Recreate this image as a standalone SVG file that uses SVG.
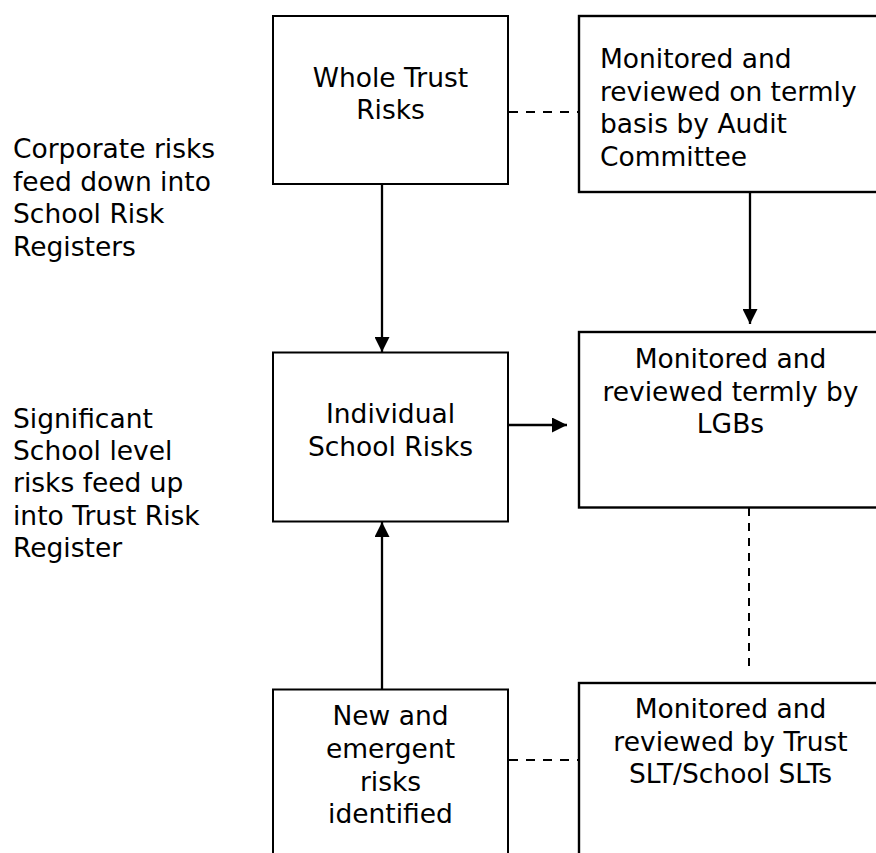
<svg xmlns="http://www.w3.org/2000/svg" width="876" height="853" viewBox="0 0 876 853">
<style>
  text { font-family: "DejaVu Sans", Verdana, sans-serif; font-size: 26.5px; fill: #000; }
  .c { text-anchor: middle; }
  .box { fill: #fff; stroke: #000; stroke-width: 2; }
  .boxr { fill: #fff; stroke: #000; stroke-width: 2.4; }
  .line { stroke: #000; stroke-width: 2.3; fill: none; }
  .dash { stroke: #000; stroke-width: 2; fill: none; stroke-dasharray: 9 8; }
  .vdash { stroke: #000; stroke-width: 2; fill: none; stroke-dasharray: 8 7; }
</style>
<defs>
  <marker id="arrow" markerUnits="userSpaceOnUse" markerWidth="15" markerHeight="15" refX="15" refY="7.5" orient="auto">
    <path d="M0,0 L15,7.5 L0,15 Z" fill="#000"/>
  </marker>
</defs>
<rect width="876" height="853" fill="#fff"/>

<g id="label-corporate">
  <text x="13" y="158">Corporate risks</text>
  <text x="13" y="190.5">feed down into</text>
  <text x="13" y="223">School Risk</text>
  <text x="13" y="255.5">Registers</text>
</g>
<g id="label-significant">
  <text x="13" y="428">Significant</text>
  <text x="13" y="460.2">School level</text>
  <text x="13" y="492.4">risks feed up</text>
  <text x="13" y="524.6">into Trust Risk</text>
  <text x="13" y="556.8">Register</text>
</g>

<g id="connectors">
  <line class="dash" x1="509" y1="112" x2="579" y2="112"/>
  <line class="line" x1="382" y1="185" x2="382" y2="352" marker-end="url(#arrow)"/>
  <line class="line" x1="750" y1="192" x2="750" y2="324" marker-end="url(#arrow)"/>
  <line class="line" x1="509" y1="425" x2="567" y2="425" marker-end="url(#arrow)"/>
  <line class="vdash" x1="749" y1="508" x2="749" y2="669"/>
  <line class="line" x1="382" y1="689" x2="382" y2="522" marker-end="url(#arrow)"/>
  <line class="dash" x1="509" y1="760" x2="579" y2="760"/>
</g>

<g id="whole-trust-risks">
  <rect class="box" x="273" y="16" width="235" height="168"/>
  <text class="c" x="390.5" y="87">Whole Trust</text>
  <text class="c" x="390.5" y="118.5">Risks</text>
</g>
<g id="audit-committee">
  <rect class="boxr" x="579" y="16" width="310" height="176"/>
  <text x="600" y="68.3">Monitored and</text>
  <text x="600" y="100.7">reviewed on termly</text>
  <text x="600" y="133.1">basis by Audit</text>
  <text x="600" y="165.5">Committee</text>
</g>
<g id="individual-school-risks">
  <rect class="box" x="273" y="352.5" width="235" height="169"/>
  <text class="c" x="390.5" y="422.5">Individual</text>
  <text class="c" x="390.5" y="455.5">School Risks</text>
</g>
<g id="lgbs">
  <rect class="boxr" x="579" y="332" width="303" height="175.5"/>
  <text class="c" x="730.5" y="368.3">Monitored and</text>
  <text class="c" x="730.5" y="400.7">reviewed termly by</text>
  <text class="c" x="730.5" y="433.3">LGBs</text>
</g>
<g id="new-emergent-risks">
  <rect class="box" x="273" y="689.5" width="235" height="200"/>
  <text class="c" x="390.5" y="725">New and</text>
  <text class="c" x="390.5" y="758">emergent</text>
  <text class="c" x="390.5" y="790.7">risks</text>
  <text class="c" x="390.5" y="823.3">identified</text>
</g>
<g id="slt">
  <rect class="boxr" x="579" y="683" width="303" height="200"/>
  <text class="c" x="730.5" y="718.3">Monitored and</text>
  <text class="c" x="730.5" y="750.7">reviewed by Trust</text>
  <text class="c" x="730.5" y="783.3">SLT/School SLTs</text>
</g>
</svg>
